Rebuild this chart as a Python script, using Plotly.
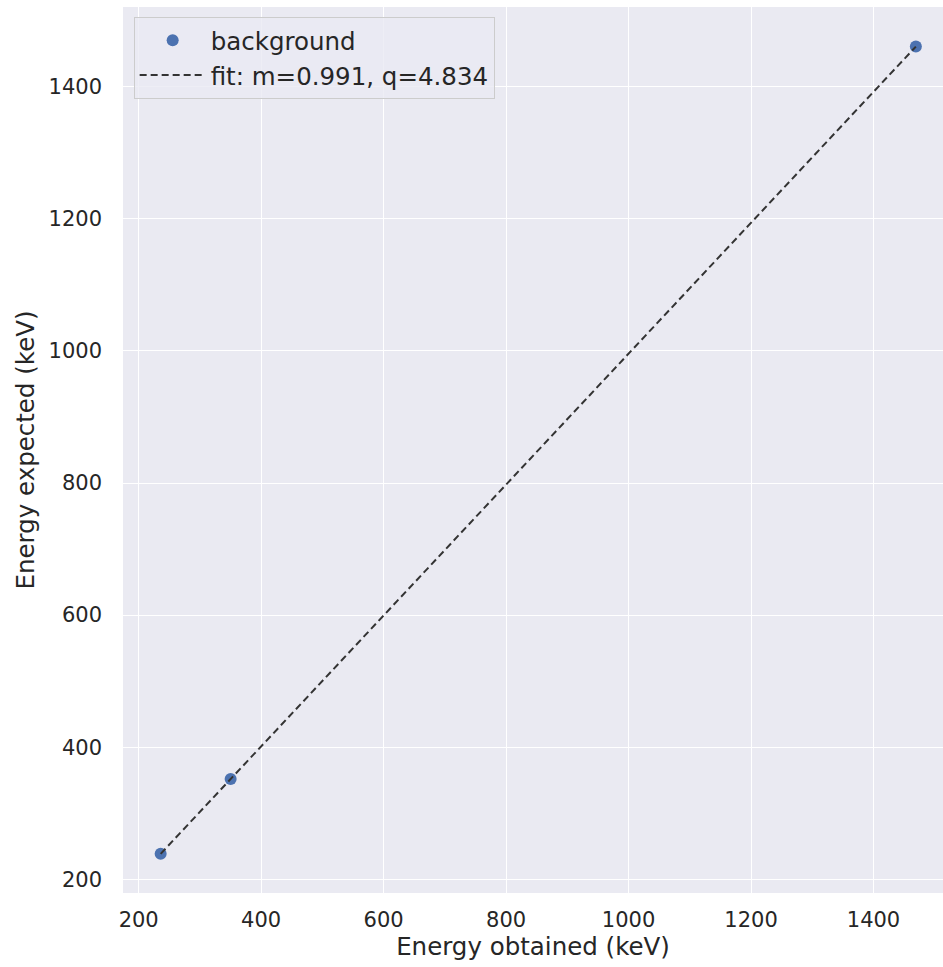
import plotly.graph_objects as go

# Data
energy_expected = [238.6, 351.9, 1460.8]
m_fit = 0.991
q_fit = 4.834
energy_obtained = [235.9, 350.2, 1469.2]
fit_x = [min(energy_obtained), max(energy_obtained)]
fit_y = [m_fit * v + q_fit for v in fit_x]

x_ticks = [200, 400, 600, 800, 1000, 1200, 1400]
y_ticks = [200, 400, 600, 800, 1000, 1200, 1400]

font_family = "DejaVu Sans"
text_color = "#262626"

fig = go.Figure()
fig.add_trace(go.Scatter(
    x=energy_obtained, y=energy_expected, mode="markers", name="background",
    marker=dict(color="#4C72B0", size=12),
))
fig.add_trace(go.Scatter(
    x=fit_x, y=fit_y, mode="lines", name=f"fit: m={m_fit}, q={q_fit}",
    line=dict(color="#333333", width=2, dash="7px,4px"),
))

fig.update_layout(
    width=943, height=967,
    margin=dict(l=123, r=0, t=7, b=74),
    plot_bgcolor="#EAEAF2", paper_bgcolor="white",
    font=dict(family=font_family, size=20, color=text_color),
    showlegend=True,
    legend=dict(
        x=0.013, y=0.989, xanchor="left", yanchor="top",
        bgcolor="rgba(234,234,242,0.8)", bordercolor="#CCCCCC", borderwidth=1,
        font=dict(size=24.5, color=text_color),
        tracegroupgap=0, itemwidth=66,
    ),
    xaxis=dict(
        range=[174.4, 1513.5], tickvals=x_ticks, showgrid=True, gridcolor="white",
        gridwidth=1.4, zeroline=False, showline=False, ticks="",
        tickfont=dict(size=21, color=text_color), ticklabelstandoff=12,
        title=dict(text="Energy obtained (keV)", font=dict(size=24.5, color=text_color), standoff=3),
    ),
    yaxis=dict(
        range=[179.3, 1520.7], tickvals=y_ticks, showgrid=True, gridcolor="white",
        gridwidth=1.4, zeroline=False, showline=False, ticks="",
        tickfont=dict(size=21, color=text_color), ticklabelstandoff=20,
        title=dict(text="Energy expected (keV)", font=dict(size=24.5, color=text_color), standoff=6),
    ),
)

fig.write_html(
    "out.html",
    config={"displayModeBar": False},
    post_script="document.body.style.margin='0';document.body.style.overflow='hidden';",
)
